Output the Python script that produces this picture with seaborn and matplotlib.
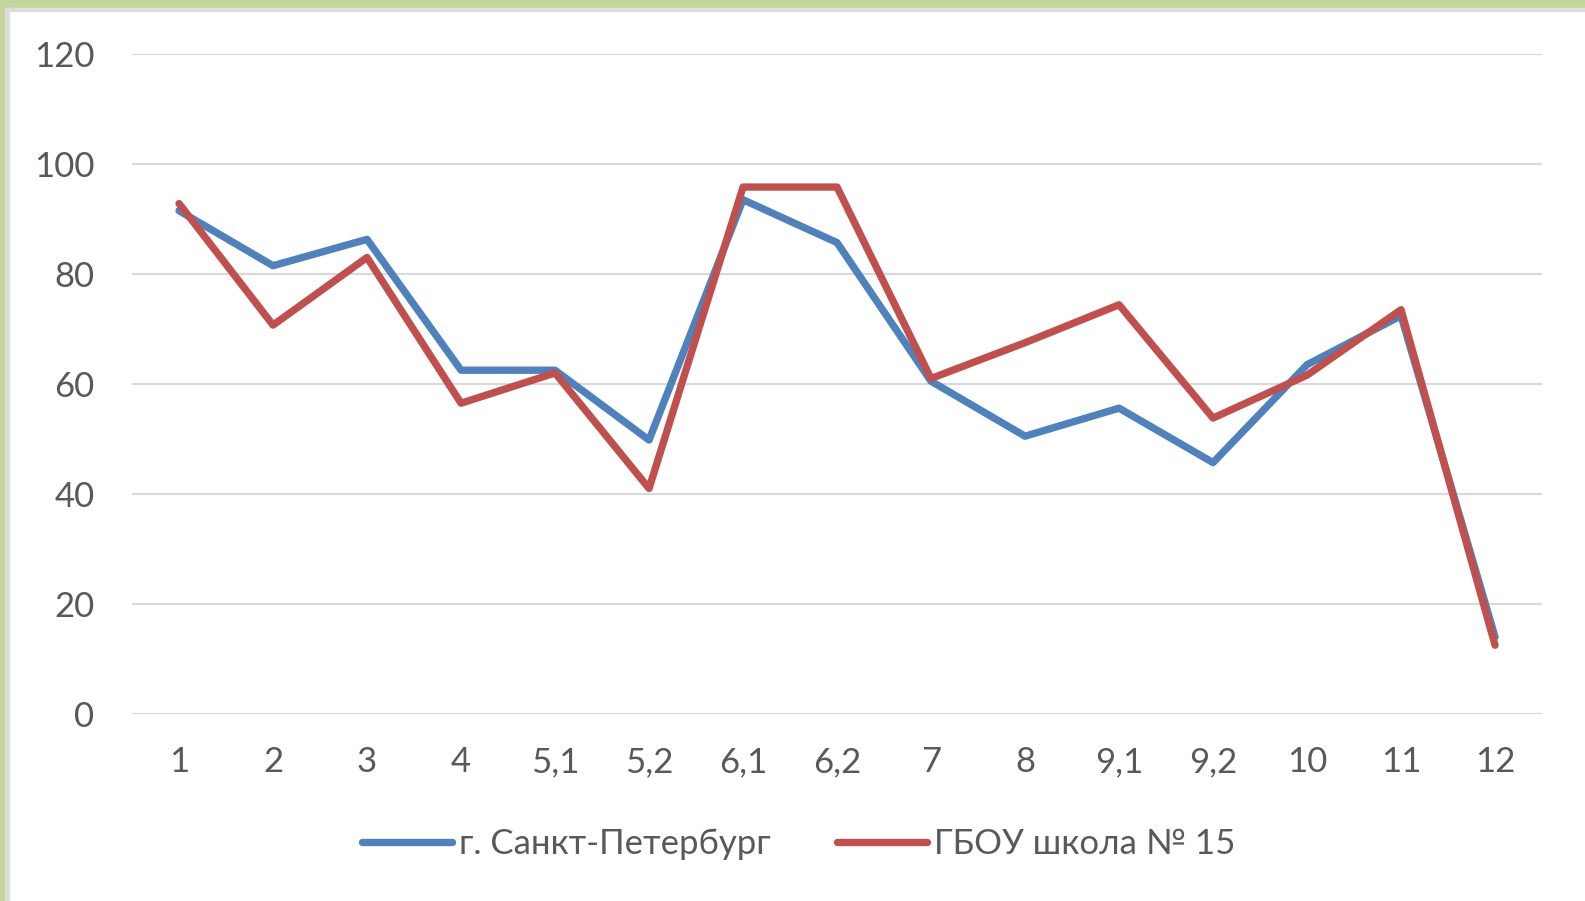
import matplotlib
matplotlib.use("Agg")
import matplotlib.pyplot as plt
from matplotlib.patches import Rectangle
import pandas as pd
import seaborn as sns

# --- данные ---
zadaniya = ["1", "2", "3", "4", "5,1", "5,2", "6,1", "6,2", "7", "8", "9,1", "9,2", "10", "11", "12"]
spb = [91.5, 81.5, 86.3, 62.5, 62.5, 49.8, 93.5, 85.7, 60.5, 50.5, 55.6, 45.7, 63.5, 72.4, 14.0]
shkola = [92.8, 70.7, 83.0, 56.5, 62.0, 41.0, 95.8, 95.8, 61.0, 67.5, 74.4, 53.8, 61.6, 73.5, 12.5]
serii = ["г. Санкт-Петербург", "ГБОУ школа № 15"]
cveta = ["#4F81BD", "#C0504D"]

df = pd.DataFrame({
    "zad": zadaniya * 2,
    "val": spb + shkola,
    "seria": [serii[0]] * len(zadaniya) + [serii[1]] * len(zadaniya),
})

sns.set_theme(style="white")
plt.rcParams['font.family'] = ['Lato', 'DejaVu Sans']

fig = plt.figure(figsize=(15.85, 9.01), dpi=100)
ax = fig.add_axes([0.0833, 0.2076, 0.8896, 0.7325])

sns.lineplot(data=df, x="zad", y="val", hue="seria", palette=cveta,
             sort=False, linewidth=5.3, ax=ax, legend=True)

ax.set_xlim(-0.5, len(zadaniya) - 0.5)
ax.set_ylim(0, 120)
ax.set_yticks(range(0, 121, 20))
ax.yaxis.grid(True, color="#D9D9D9", linewidth=1.5)
ax.set_axisbelow(True)
for s in ax.spines.values():
    s.set_visible(False)
ax.set_xlabel("")
ax.set_ylabel("")
ax.tick_params(axis="both", length=0, labelsize=25, labelcolor="#595959")
ax.tick_params(axis="y", pad=27)
ax.tick_params(axis="x", pad=23)

ax.legend(loc="center", bbox_to_anchor=(0.504, 0.063), bbox_transform=fig.transFigure,
          ncol=2, frameon=False, fontsize=25, labelcolor="#595959",
          handlelength=2.6, handletextpad=0.2, columnspacing=1.9)
for ln in ax.get_legend().get_lines():
    ln.set_linewidth(5.3)

# зелёная рамка слайда сверху и слева
fig.patches.append(Rectangle((0, 1 - 8 / 901), 1, 8 / 901, transform=fig.transFigure,
                             color="#C3D69B", zorder=0))
fig.patches.append(Rectangle((0, 1 - 11 / 901), 1, 3 / 901, transform=fig.transFigure,
                             color="#DDDDDD", zorder=0))
fig.patches.append(Rectangle((0, 0), 5 / 1585, 1, transform=fig.transFigure,
                             color="#C3D69B", zorder=0))
fig.patches.append(Rectangle((5 / 1585, 0), 4 / 1585, 1 - 8 / 901, transform=fig.transFigure,
                             color="#DDDDDD", zorder=0))

fig.savefig("out.png", dpi=100)
